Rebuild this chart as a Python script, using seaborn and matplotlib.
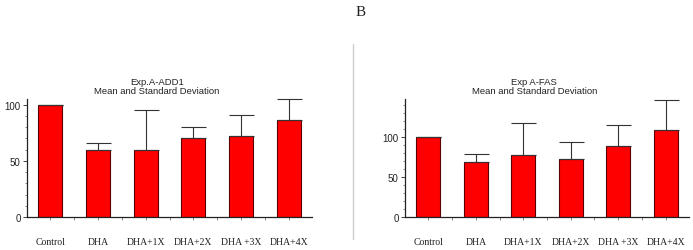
import numpy as np
import pandas as pd
import matplotlib
matplotlib.use("Agg")
import matplotlib.pyplot as plt
from matplotlib.ticker import MultipleLocator
import seaborn as sns

# Data

groups = ["Control", "DHA", "DHA+1X", "DHA+2X", "DHA +3X", "DHA+4X"]

add1_mean = [100, 60, 60, 70, 72.5, 86]
add1_sd = [0, 6, 35, 10.5, 18, 19]

fas_mean = [100, 69, 77, 72, 89, 109]
fas_sd = [0, 9.5, 39.5, 21.5, 25, 37]

sns.set_style("ticks")
plt.rcParams["font.family"] = ["Liberation Sans", "DejaVu Sans"]

fig = plt.figure(figsize=(6.93, 2.51), dpi=100)
ax1 = fig.add_axes([27 / 693, 33 / 251, 285 / 693, 118 / 251])
ax2 = fig.add_axes([405 / 693, 33 / 251, 284 / 693, 118 / 251])


def draw_panel(ax, means, sds, title, ymax):
    df = pd.DataFrame({"group": groups, "mean": means})
    sns.barplot(data=df, x="group", y="mean", color="#ff0000", saturation=1,
                width=0.5, edgecolor="#5a0000", linewidth=0.8, ax=ax)
    ax.errorbar(np.arange(len(groups)), means, yerr=[np.zeros(len(sds)), sds],
                fmt="none", ecolor="#333333", elinewidth=0.8, capsize=9,
                capthick=0.8, clip_on=False)
    ax.set_xlim(-0.49, 5.49)
    ax.set_ylim(0, ymax)
    ax.set_yticks([0, 50, 100])
    ax.yaxis.set_minor_locator(MultipleLocator(10))
    ax.set_xticks(np.arange(0.5, 5, 1), minor=True)
    ax.set_xlabel("")
    ax.set_ylabel("")
    sns.despine(ax=ax)
    for side in ["left", "bottom"]:
        ax.spines[side].set_linewidth(0.9)
        ax.spines[side].set_color("#222222")
    ax.tick_params(axis="y", which="major", length=3, width=0.6, pad=1.5,
                   labelsize=7, colors="#222222")
    ax.tick_params(axis="y", which="minor", length=1.5, width=0.5, colors="#555555")
    ax.tick_params(axis="x", which="both", length=2, width=0.5, colors="#555555")
    ax.tick_params(axis="x", which="major", pad=12.5, labelcolor="#222222")
    for lab in ax.get_xticklabels():
        lab.set_fontfamily("Liberation Serif")
        lab.set_fontsize(7)
    ax.set_title(title, fontsize=6.8, x=0.455, pad=4, linespacing=1.1,
                 color="#222222")


draw_panel(ax1, add1_mean, add1_sd, "Exp.A-ADD1\nMean and Standard Deviation", 105)
draw_panel(ax2, fas_mean, fas_sd, "Exp A-FAS\nMean and Standard Deviation", 147)

# panel letter and separator line
fig.text(361 / 693, 1 - 13 / 251, "B", ha="center", va="center",
         fontsize=11, family="Liberation Serif", color="#222222")
fig.add_artist(plt.Line2D([353 / 693, 353 / 693], [1 - 45 / 251, 1 - 240 / 251],
                          color="#cccccc", linewidth=1))

fig.savefig("out.png", dpi=100)
